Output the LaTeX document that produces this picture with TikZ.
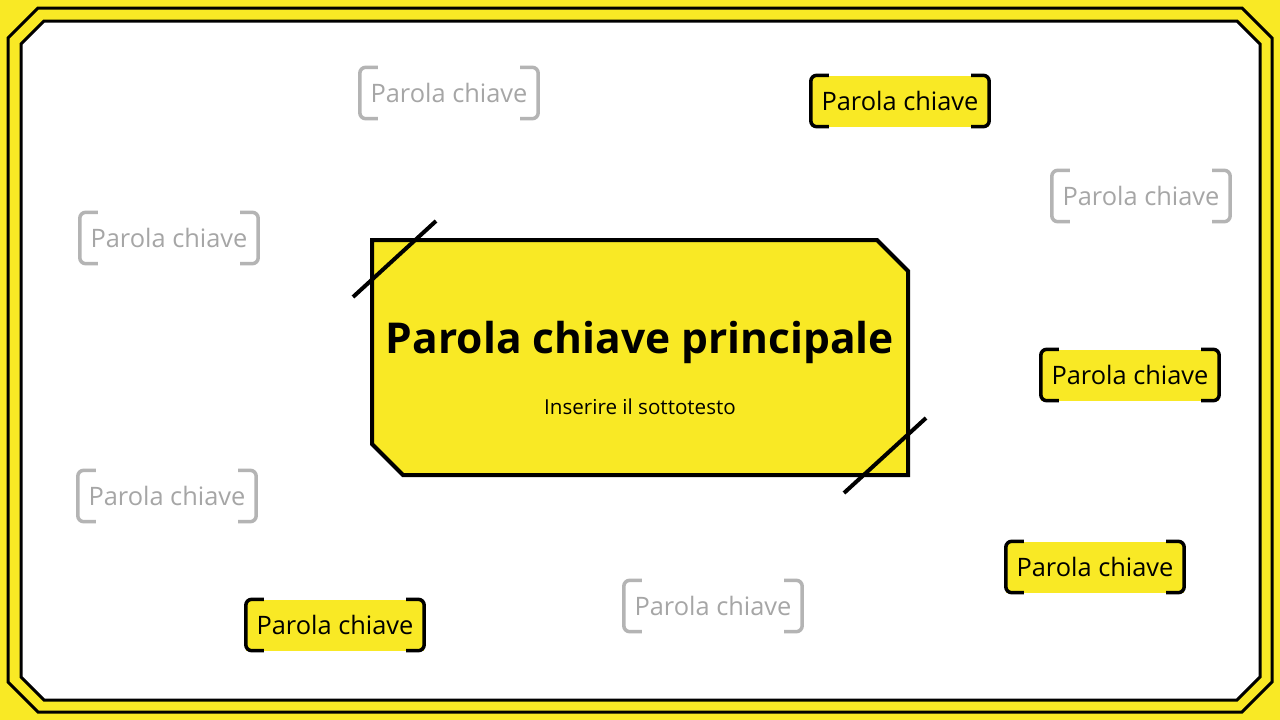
\documentclass[tikz,border=0pt]{standalone}
\usepackage{fontspec}
\setmainfont{Open Sans}
\usepackage{tikz}
\definecolor{ylw}{RGB}{249,233,37}
\definecolor{gry}{RGB}{180,180,180}
\definecolor{grytxt}{RGB}{166,166,166}
\tikzstyle{frm}=[draw=black, line width=3pt]
\tikzstyle{kw}=[minimum width=178pt, minimum height=51pt, inner sep=0pt, font=\fontsize{25.4}{26}\selectfont]
\tikzstyle{hot}=[kw, fill=ylw, text=black]
\tikzstyle{cold}=[kw, text=grytxt]
\tikzstyle{hotb}=[draw=black, line width=3.5pt, rounded corners=6pt]
\tikzstyle{coldb}=[draw=gry, line width=3.5pt, rounded corners=6pt]
\tikzstyle{slash}=[draw=black, line width=4pt]
\begin{document}
\begin{tikzpicture}[x=1pt, y=-1pt]

\fill[ylw] (0,0) rectangle (1280,720);
\useasboundingbox (0,0) rectangle (1280,720);

\draw[frm] (38,8) -- (1242,8) -- (1272,38) -- (1272,682) -- (1242,712) -- (38,712) -- (8,682) -- (8,38) -- cycle;
\draw[frm, fill=white] (44,21) -- (1237,21) -- (1260,44) -- (1260,677) -- (1237,700) -- (44,700) -- (21,677) -- (21,44) -- cycle;

\draw[line width=4pt, fill=ylw] (372,240) -- (877,240) -- (908,271) -- (908,475) -- (403,475) -- (372,444) -- cycle;
\coordinate (s1a) at (353,297);
\coordinate (s1b) at (436,221);
\coordinate (s2a) at (844,493);
\coordinate (s2b) at (926,418);
\draw[slash] (s1a) -- (s1b);
\draw[slash] (s2a) -- (s2b);

\node (title) at (640,342) {\fontsize{42.5}{44}\selectfont\bfseries Parola chiave principale};
\node (sub) at (640,407) {\fontsize{20.6}{22}\selectfont Inserire il sottotesto};

\node[cold] (g1) at (449,93) {Parola chiave};
\node[cold] (g2) at (169,238) {Parola chiave};
\node[cold] (g3) at (1141,196) {Parola chiave};
\node[cold] (g4) at (167,496) {Parola chiave};
\node[cold] (g5) at (713,606) {Parola chiave};

\node[hot] (y1) at (900,101) {Parola chiave};
\node[hot] (y2) at (1130,375) {Parola chiave};
\node[hot] (y3) at (1095,567) {Parola chiave};
\node[hot] (y4) at (335,625) {Parola chiave};

\draw[coldb] ([xshift=18pt]g1.north west) -- (g1.north west) -- (g1.south west) -- ([xshift=18pt]g1.south west);
\draw[coldb] ([xshift=-18pt]g1.north east) -- (g1.north east) -- (g1.south east) -- ([xshift=-18pt]g1.south east);
\draw[coldb] ([xshift=18pt]g2.north west) -- (g2.north west) -- (g2.south west) -- ([xshift=18pt]g2.south west);
\draw[coldb] ([xshift=-18pt]g2.north east) -- (g2.north east) -- (g2.south east) -- ([xshift=-18pt]g2.south east);
\draw[coldb] ([xshift=18pt]g3.north west) -- (g3.north west) -- (g3.south west) -- ([xshift=18pt]g3.south west);
\draw[coldb] ([xshift=-18pt]g3.north east) -- (g3.north east) -- (g3.south east) -- ([xshift=-18pt]g3.south east);
\draw[coldb] ([xshift=18pt]g4.north west) -- (g4.north west) -- (g4.south west) -- ([xshift=18pt]g4.south west);
\draw[coldb] ([xshift=-18pt]g4.north east) -- (g4.north east) -- (g4.south east) -- ([xshift=-18pt]g4.south east);
\draw[coldb] ([xshift=18pt]g5.north west) -- (g5.north west) -- (g5.south west) -- ([xshift=18pt]g5.south west);
\draw[coldb] ([xshift=-18pt]g5.north east) -- (g5.north east) -- (g5.south east) -- ([xshift=-18pt]g5.south east);

\draw[hotb] ([xshift=18pt]y1.north west) -- (y1.north west) -- (y1.south west) -- ([xshift=18pt]y1.south west);
\draw[hotb] ([xshift=-18pt]y1.north east) -- (y1.north east) -- (y1.south east) -- ([xshift=-18pt]y1.south east);
\draw[hotb] ([xshift=18pt]y2.north west) -- (y2.north west) -- (y2.south west) -- ([xshift=18pt]y2.south west);
\draw[hotb] ([xshift=-18pt]y2.north east) -- (y2.north east) -- (y2.south east) -- ([xshift=-18pt]y2.south east);
\draw[hotb] ([xshift=18pt]y3.north west) -- (y3.north west) -- (y3.south west) -- ([xshift=18pt]y3.south west);
\draw[hotb] ([xshift=-18pt]y3.north east) -- (y3.north east) -- (y3.south east) -- ([xshift=-18pt]y3.south east);
\draw[hotb] ([xshift=18pt]y4.north west) -- (y4.north west) -- (y4.south west) -- ([xshift=18pt]y4.south west);
\draw[hotb] ([xshift=-18pt]y4.north east) -- (y4.north east) -- (y4.south east) -- ([xshift=-18pt]y4.south east);

\end{tikzpicture}
\end{document}
